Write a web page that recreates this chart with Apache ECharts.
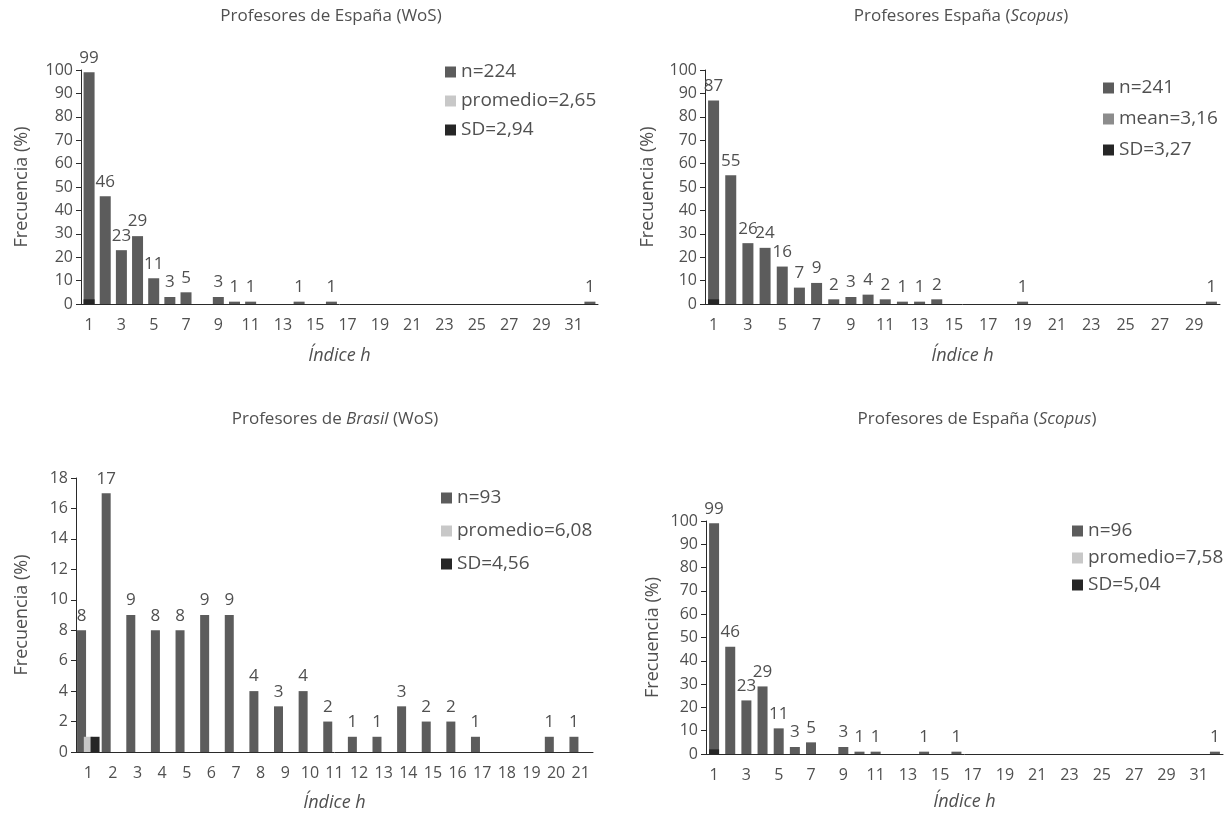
<!DOCTYPE html>
<html>
<head>
<meta charset="utf-8">
<script src="https://cdn.jsdelivr.net/npm/echarts@6/dist/echarts.min.js"></script>
<style>
html,body{margin:0;padding:0;background:#fff;}
#chart{width:1231px;height:819px;}
</style>
</head>
<body>
<div id="chart"></div>
<script>
// ---- categories (h-index) ----
const catsA = ['1','2','3','4','5','6','7','8','9','10','11','12','13','14','15','16','17','18','19','20','21','22','23','24','25','26','27','28','29','30','31','32'];
const catsB = ['1','2','3','4','5','6','7','8','9','10','11','12','13','14','15','16','17','18','19','20','21','22','23','24','25','26','27','28','29','30'];
const catsC = ['1','2','3','4','5','6','7','8','9','10','11','12','13','14','15','16','17','18','19','20','21'];

// ---- Panel 1: Profesores de España (WoS) ----
const p1N = [99,46,23,29,11,3,5,0,3,1,1,0,0,1,0,1,0,0,0,0,0,0,0,0,0,0,0,0,0,0,0,1];
const p1Mean = [0];
const p1SD = [2];
const p1Names = ['n=224','promedio=2,65','SD=2,94'];

// ---- Panel 2: Profesores España (Scopus) ----
const p2N = [87,55,26,24,16,7,9,2,3,4,2,1,1,2,0,0,0,0,1,0,0,0,0,0,0,0,0,0,0,1];
const p2Mean = [0];
const p2SD = [2];
const p2Names = ['n=241','mean=3,16','SD=3,27'];

// ---- Panel 3: Profesores de Brasil (WoS) ----
const p3N = [8,17,9,8,8,9,9,4,3,4,2,1,1,3,2,2,1,0,0,1,1];
const p3Mean = [1];
const p3SD = [1];
const p3Names = ['n=93','promedio=6,08','SD=4,56'];

// ---- Panel 4: Profesores de España (Scopus) ----
const p4N = [99,46,23,29,11,3,5,0,3,1,1,0,0,1,0,1,0,0,0,0,0,0,0,0,0,0,0,0,0,0,0,1];
const p4Mean = [0];
const p4SD = [2];
const p4Names = ['n=96','promedio=7,58','SD=5,04'];

const FONT = "'Open Sans', 'Noto Sans', sans-serif";
const TXT = '#505050';
const AX = '#2a2a2a';
const C_N = '#5c5c5c', C_MEAN = '#c8c8c8', C_MEAN2 = '#8c8c8c', C_SD = '#262626';

const chart = echarts.init(document.getElementById('chart'), null, {renderer:'canvas'});

function xAx(gi, cats, labelInterval, tickCfg, nameGap){
  return {
    type:'category', gridIndex:gi, data:cats, boundaryGap:true,
    name:'Índice h', nameLocation:'middle', nameGap:nameGap,
    nameTextStyle:{fontFamily:FONT, fontStyle:'italic', fontSize:18, color:TXT},
    axisLine:{lineStyle:{color:AX, width:1}},
    axisTick:Object.assign({length:5, lineStyle:{color:AX}}, tickCfg),
    axisLabel:{interval:labelInterval, margin:13, fontFamily:FONT, fontSize:16, color:TXT},
    splitLine:{show:false}
  };
}
function yAx(gi, max, interval, nameGap){
  return {
    type:'value', gridIndex:gi, min:0, max:max, interval:interval,
    name:'Frecuencia (%)', nameLocation:'middle', nameGap:nameGap,
    nameTextStyle:{fontFamily:FONT, fontSize:18, color:TXT},
    axisLine:{show:true, lineStyle:{color:AX, width:1}},
    axisTick:{show:true, length:5, lineStyle:{color:AX}},
    axisLabel:{margin:8, fontFamily:FONT, fontSize:16, color:TXT},
    splitLine:{show:false}
  };
}
function nSeries(name, gi, data, bw, gap){
  return {
    type:'bar', name:name, xAxisIndex:gi, yAxisIndex:gi, data:data,
    barWidth:bw, barGap:gap, itemStyle:{color:C_N},
    label:{show:true, position:'top', distance:6, fontFamily:FONT, fontSize:17, color:TXT,
      formatter:p => p.value > 0 ? String(p.value) : ''},
    animation:false
  };
}
function sSeries(name, gi, data, bw, gap, color){
  return {
    type:'bar', name:name, xAxisIndex:gi, yAxisIndex:gi, data:data,
    barWidth:bw, barGap:gap, itemStyle:{color:color}, animation:false
  };
}
function legend(names, left, top, gap){
  return {
    orient:'vertical', left:left, top:top, itemGap:gap, padding:0,
    itemWidth:11, itemHeight:11, icon:'rect', data:names, selectedMode:false,
    textStyle:{fontFamily:FONT, fontSize:19, color:TXT, lineHeight:20}
  };
}
function title(text, centerX, top){
  return {
    text:text, left:centerX, top:top, textAlign:'center', padding:0,
    textStyle:{fontFamily:FONT, fontSize:17, fontWeight:'normal', color:TXT,
      rich:{i:{fontFamily:FONT, fontSize:17, fontStyle:'italic', color:TXT}}}
  };
}

const option = {
  backgroundColor:'#ffffff',
  animation:false,
  title:[
    title('Profesores de España (WoS)', 331, 8),
    title('Profesores España ({i|Scopus})', 961, 8),
    title('Profesores de {i|Brasil} (WoS)', 335, 411),
    title('Profesores de España ({i|Scopus})', 977, 411)
  ],
  legend:[
    legend(p1Names, 445, 62, 9),
    legend(p2Names, 1103, 78, 11),
    legend(p3Names, 441, 488, 13),
    legend(p4Names, 1072, 521, 7)
  ],
  grid:[
    {left:81, top:70, width:517, height:234},
    {left:705, top:70, width:515, height:234},
    {left:76, top:478, width:517, height:274},
    {left:706, top:521, width:517, height:233}
  ],
  xAxis:[
    xAx(0, catsA, 1, {alignWithLabel:true, interval:0}, 43),
    xAx(1, catsB, 1, {alignWithLabel:false, interval:(i)=> i % 2 === 1}, 43),
    xAx(2, catsC, 0, {alignWithLabel:true, interval:0}, 42),
    xAx(3, catsA, 1, {alignWithLabel:true, interval:0}, 39)
  ],
  yAxis:[
    yAx(0, 100, 10, 50),
    yAx(1, 100, 10, 48),
    yAx(2, 18, 2, 45),
    yAx(3, 100, 10, 44)
  ],
  series:[
    nSeries(p1Names[0], 0, p1N, 11, '-100%'),
    sSeries(p1Names[1], 0, p1Mean, 11, '-100%', C_MEAN),
    sSeries(p1Names[2], 0, p1SD, 11, '-100%', C_SD),

    nSeries(p2Names[0], 1, p2N, 11, '-100%'),
    sSeries(p2Names[1], 1, p2Mean, 11, '-100%', C_MEAN2),
    sSeries(p2Names[2], 1, p2SD, 11, '-100%', C_SD),

    nSeries(p3Names[0], 2, p3N, 9, '-25%'),
    sSeries(p3Names[1], 2, p3Mean, 9, '-25%', C_MEAN),
    sSeries(p3Names[2], 2, p3SD, 9, '-25%', C_SD),

    nSeries(p4Names[0], 3, p4N, 10, '-100%'),
    sSeries(p4Names[1], 3, p4Mean, 10, '-100%', C_MEAN),
    sSeries(p4Names[2], 3, p4SD, 10, '-100%', C_SD)
  ]
};
chart.setOption(option);
</script>
</body>
</html>
